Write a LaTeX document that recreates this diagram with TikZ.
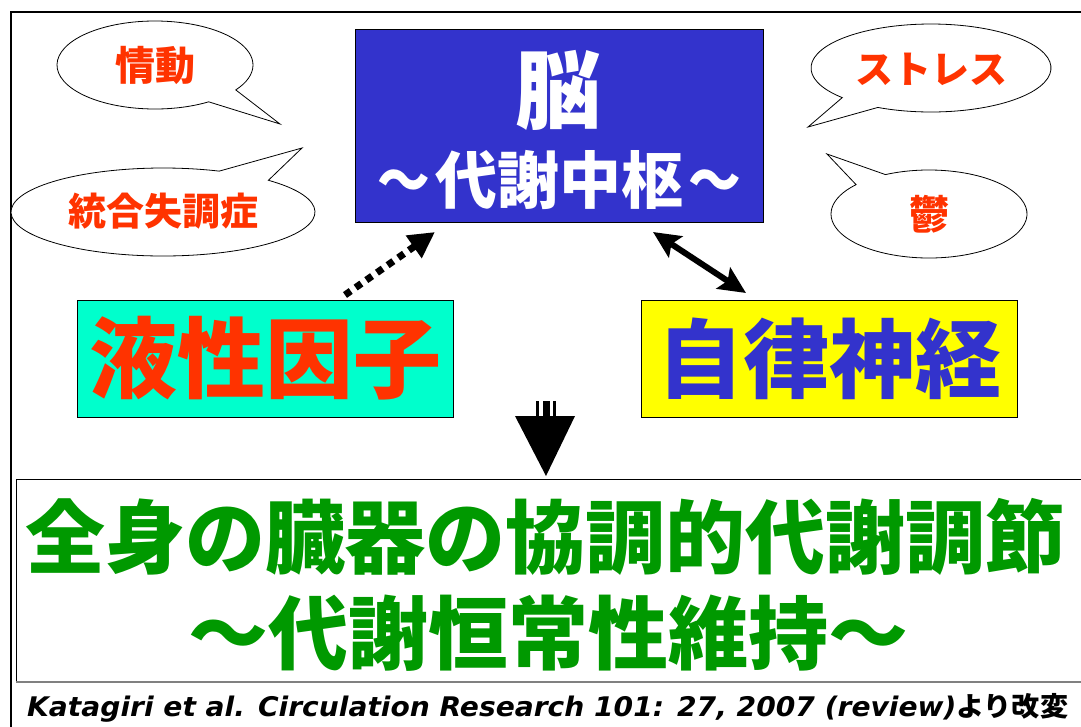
\documentclass[tikz,border=0pt]{standalone}
\usepackage{fontspec}
\usepackage{graphicx}
\usetikzlibrary{arrows.meta,calc}
\newfontfamily\jpfam{Noto Sans CJK JP}
\newcommand{\jp}{\jpfam\bfseries}
\newfontfamily\citefont{DejaVu Sans}
\definecolor{bluebox}{HTML}{3333CC}
\definecolor{cyanbox}{HTML}{00FFCC}
\definecolor{yellowbox}{HTML}{FFFF00}
\definecolor{redtxt}{HTML}{FF3300}
\definecolor{greentxt}{HTML}{009900}
\newcommand{\wtilde}{\scalebox{0.85}[1]{～}}
\tikzset{
  callout/.style={draw=black, line width=0.8pt, fill=white},
  ctext/.style={inner sep=0pt, text=redtxt},
  box/.style={draw=black, line width=0.8pt, inner sep=0pt},
  gtext/.style={inner sep=0pt, text=greentxt, font=\jp\fontsize{80}{80}\selectfont},
}
\begin{document}
\begin{tikzpicture}[x=1pt,y=-1pt]
\useasboundingbox (0,0) rectangle (1081,726);
\clip (0,0) rectangle (1081,726);
\fill[white] (0,0) rectangle (1081,726);

% outer frame
\draw[line width=2.5pt] (11,730) -- (11,12) -- (1090,12);

% callouts
\path[callout] ($(155,65)+(34.5:98 and 44)$) -- (280,124) -- ($(155,65)+(56.8:98 and 44)$)
  arc[start angle=56.8, end angle=394.5, x radius=98, y radius=44] -- cycle;
\node[ctext, font=\jp\fontsize{40}{40}\selectfont] (emo) at (155,65) {情動};

\path[callout] ($(163,212)+(-68.3:152 and 44)$) -- (302,148) -- ($(163,212)+(-46.1:152 and 44)$)
  arc[start angle=-46.1, end angle=291.7, x radius=152, y radius=44] -- cycle;
\node[ctext, font=\jp\fontsize{38}{38}\selectfont] (schizo) at (163,211) {統合失調症};

\path[callout] ($(931,68)+(116.3:120 and 44)$) -- (808,127) -- ($(931,68)+(137.7:120 and 44)$)
  arc[start angle=137.7, end angle=476.3, x radius=120, y radius=44] -- cycle;
\node[ctext, font=\jp\fontsize{38}{38}\selectfont] (stress) at (931,69) {ストレス};

\path[callout] ($(929,214)+(-138.1:98 and 44)$) -- (827,154) -- ($(929,214)+(-116.4:98 and 44)$)
  arc[start angle=-116.4, end angle=221.9, x radius=98, y radius=44] -- cycle;
\node[ctext, font=\jp\fontsize{40}{40}\selectfont] (depr) at (929,214) {鬱};

% brain box
\node[box, fill=bluebox, minimum width=408, minimum height=193] (brain) at (559,125.5) {};
\node[inner sep=0pt, text=white, font=\jp\fontsize{86}{86}\selectfont] (brainA) at (558,90) {脳};
\node[inner sep=0pt, text=white, font=\jp\fontsize{62}{62}\selectfont] (brainB) at (559,180)
  {\wtilde\kern5pt 代謝中枢\kern5pt\wtilde};

% humoral factor / autonomic nerve boxes
\node[box, fill=cyanbox, text=redtxt, minimum width=376, minimum height=117,
  font=\jp\fontsize{88}{88}\selectfont] (humoral) at (265,358.5) {液性因子};
\node[box, fill=yellowbox, text=bluebox, minimum width=376, minimum height=117,
  font=\jp\fontsize{86}{86}\selectfont] (auto) at (829,358.5) {自律神経};

% connectors
\coordinate (d1) at (345,295);
\coordinate (d2) at (435,232);
\draw[line width=7pt, dash pattern=on 7pt off 6pt, -{Triangle[length=26pt,width=26pt]}] (d1) -- (d2);
\coordinate (e1) at (653,232);
\coordinate (e2) at (746,293);
\draw[line width=6pt, {Stealth[length=27pt,width=25pt,inset=5pt]}-{Stealth[length=27pt,width=25pt,inset=5pt]}] (e1) -- (e2);

% big down arrow
\fill[black] (515,416) -- (575,416) -- (546,476) -- cycle;
\fill[black] (535.5,401) rectangle (539,416);
\fill[black] (542.5,401) rectangle (550,416);
\fill[black] (552.5,401) rectangle (556,416);

% result box
\node[draw=black, line width=1pt, inner sep=0pt, minimum width=1080, minimum height=203] (result) at (556,580.5) {};
\draw[line width=2pt, gray] (16,682) -- (1090,682);
\node[gtext] (res1) at (545,537) {全身の臓器の協調的代謝調節};
\node[gtext] (res2) at (548,633) {～代謝恒常性維持～};

% citation
\node[anchor=base west, inner sep=0pt] (cite) at (27,716)
  {\resizebox{1041pt}{\height}{\citefont\bfseries\itshape\fontsize{27}{27}\selectfont Katagiri et al. Circulation Research 101: 27, 2007 (review){\jp より改変}}};
\end{tikzpicture}
\end{document}
